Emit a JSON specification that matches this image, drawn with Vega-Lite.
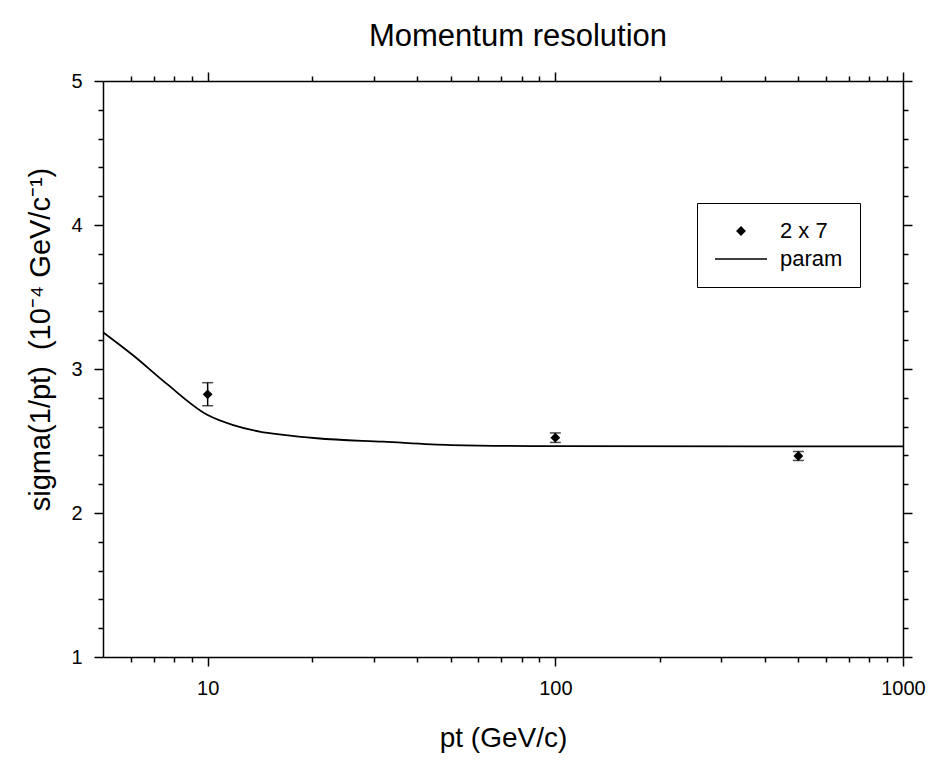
{
  "$schema": "https://vega.github.io/schema/vega-lite/v6.json",
  "width": 800,
  "height": 576,
  "autosize": {"type": "none"},
  "padding": {"left": 103, "top": 81, "right": 34, "bottom": 103},
  "background": "white",
  "title": {"text": "Momentum resolution", "font": "Liberation Sans", "fontSize": 31, "fontWeight": "normal", "color": "black", "anchor": "middle", "frame": "group", "dx": 15, "offset": 18},
  "config": {
    "view": {"stroke": null},
    "legend": {"strokeColor": "black", "strokeWidth": 1},
    "axis": {"grid": false, "domainColor": "black", "domainWidth": 1.5, "tickColor": "black", "tickWidth": 1.5, "labelFont": "Liberation Sans", "labelFontSize": 20, "labelColor": "black", "titleFont": "Liberation Sans", "titleFontSize": 28, "titleFontWeight": "normal", "titleColor": "black", "labelOverlap": false, "labelFlush": false}
  },
  "datasets": {
    "line": [
      {"p": 5, "v": 3.255}, {"p": 6.1, "v": 3.095}, {"p": 7.6, "v": 2.9}, {"p": 10, "v": 2.68},
      {"p": 11.85, "v": 2.61}, {"p": 14.1, "v": 2.565}, {"p": 16.5, "v": 2.542}, {"p": 20.6, "v": 2.519},
      {"p": 32, "v": 2.495}, {"p": 50, "v": 2.472}, {"p": 100, "v": 2.465}, {"p": 1000, "v": 2.462}
    ],
    "pts": [
      {"p": 10, "v": 2.824, "lo": 2.745, "hi": 2.905, "s": "2 x 7"},
      {"p": 100, "v": 2.523, "lo": 2.49, "hi": 2.556, "s": "2 x 7"},
      {"p": 500, "v": 2.396, "lo": 2.365, "hi": 2.427, "s": "2 x 7"}
    ]
  },
  "layer": [
    {
      "data": {"name": "line"},
      "mark": {"type": "line", "color": "black", "strokeWidth": 1.8, "interpolate": "monotone"},
      "encoding": {
        "x": {"field": "p", "type": "quantitative", "scale": {"type": "log", "domain": [5, 1000], "nice": false},
          "axis": {"orient": "bottom", "values": [6,7,8,9,10,20,30,40,50,60,70,80,90,100,200,300,400,500,600,700,800,900,1000], "format": "d",
            "labelExpr": "(datum.value == 10 || datum.value == 100 || datum.value == 1000) ? datum.label : ''",
            "tickSize": {"condition": {"test": "datum.value == 10 || datum.value == 100 || datum.value == 1000", "value": 9}, "value": 5},
            "labelPadding": 12, "title": "pt (GeV/c)", "titlePadding": 26}},
        "y": {"field": "v", "type": "quantitative", "scale": {"domain": [1, 5], "nice": false, "zero": false},
          "axis": {"orient": "left", "values": [1,1.2,1.4,1.6,1.8,2,2.2,2.4,2.6,2.8,3,3.2,3.4,3.6,3.8,4,4.2,4.4,4.6,4.8,5],
            "labelExpr": "(abs(datum.value - round(datum.value)) < 0.001) ? format(datum.value, 'd') : ''",
            "tickSize": {"condition": {"test": "abs(datum.value - round(datum.value)) < 0.001", "value": 9}, "value": 5},
            "labelPadding": 12, "title": "sigma(1/pt)\u00a0\u00a0(10⁻⁴ GeV/c⁻¹)", "titlePadding": 15, "titleFontSize": 29, "titleY": 258}}
      }
    },
    {
      "data": {"name": "pts"},
      "mark": {"type": "rule", "color": "black", "strokeWidth": 1.5},
      "encoding": {
        "x": {"field": "p", "type": "quantitative", "scale": {"type": "log", "domain": [5, 1000], "nice": false},
          "axis": {"orient": "top", "values": [6,7,8,9,10,20,30,40,50,60,70,80,90,100,200,300,400,500,600,700,800,900,1000],
            "labels": false, "title": null,
            "tickSize": {"condition": {"test": "datum.value == 10 || datum.value == 100 || datum.value == 1000", "value": 9}, "value": 5}}},
        "y": {"field": "lo", "type": "quantitative", "scale": {"domain": [1, 5], "nice": false, "zero": false},
          "axis": {"orient": "right", "values": [1,1.2,1.4,1.6,1.8,2,2.2,2.4,2.6,2.8,3,3.2,3.4,3.6,3.8,4,4.2,4.4,4.6,4.8,5],
            "labels": false, "title": null,
            "tickSize": {"condition": {"test": "abs(datum.value - round(datum.value)) < 0.001", "value": 9}, "value": 5}}},
        "y2": {"field": "hi"}
      }
    },
    {
      "data": {"name": "pts"},
      "mark": {"type": "tick", "orient": "horizontal", "color": "black", "size": 11, "thickness": 1.5},
      "encoding": {
        "x": {"field": "p", "type": "quantitative", "scale": {"type": "log", "domain": [5, 1000], "nice": false}, "axis": null},
        "y": {"field": "lo", "type": "quantitative", "scale": {"domain": [1, 5], "nice": false, "zero": false}, "axis": null}
      }
    },
    {
      "data": {"name": "pts"},
      "mark": {"type": "tick", "orient": "horizontal", "color": "black", "size": 11, "thickness": 1.5},
      "encoding": {
        "x": {"field": "p", "type": "quantitative", "scale": {"type": "log", "domain": [5, 1000], "nice": false}, "axis": null},
        "y": {"field": "hi", "type": "quantitative", "scale": {"domain": [1, 5], "nice": false, "zero": false}, "axis": null}
      }
    },
    {
      "data": {"name": "pts"},
      "mark": {"type": "point", "filled": true, "color": "black", "stroke": "black", "strokeWidth": 1.5, "opacity": 1},
      "encoding": {
        "x": {"field": "p", "type": "quantitative", "scale": {"type": "log", "domain": [5, 1000], "nice": false}, "axis": null},
        "y": {"field": "v", "type": "quantitative", "scale": {"domain": [1, 5], "nice": false, "zero": false}, "axis": null},
        "shape": {"field": "s", "type": "nominal", "scale": {"domain": ["2 x 7", "param"], "range": ["diamond", "stroke"]},
          "legend": {"title": null, "orient": "none", "legendX": 594, "legendY": 122, "padding": 17, "strokeColor": "black", "fillColor": "white",
            "labelFont": "Liberation Sans", "labelFontSize": 22, "labelColor": "black", "labelOffset": 12, "clipHeight": 22, "rowPadding": 6,
            "encode": {"symbols": {"update": {"stroke": {"value": "black"}, "strokeWidth": {"value": 1.8}, "fill": {"value": "black"}, "opacity": {"value": 1}}}}}},
        "size": {"field": "s", "type": "nominal", "scale": {"domain": ["2 x 7", "param"], "range": [60, 2704]},
          "legend": {"title": null, "orient": "none", "legendX": 594, "legendY": 122, "padding": 17, "strokeColor": "black", "fillColor": "white",
            "labelFont": "Liberation Sans", "labelFontSize": 22, "labelColor": "black", "labelOffset": 12, "clipHeight": 22, "rowPadding": 6,
            "encode": {"symbols": {"update": {"stroke": {"value": "black"}, "strokeWidth": {"value": 1.8}, "fill": {"value": "black"}, "opacity": {"value": 1}}}}}}
      }
    }
  ],
  "resolve": {"axis": {"x": "independent", "y": "independent"}}
}
